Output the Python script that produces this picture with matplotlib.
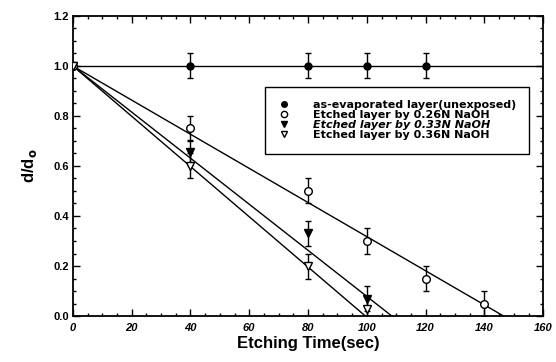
import matplotlib
matplotlib.use("Agg")
import matplotlib.pyplot as plt
import numpy as np
from matplotlib.lines import Line2D
from matplotlib.ticker import MultipleLocator

plt.rcParams["font.family"] = ["Liberation Sans", "DejaVu Sans"]

# measured points
t_unexp = [0, 40, 80, 100, 120]
d_unexp = [1.0, 1.0, 1.0, 1.0, 1.0]
e_unexp = [0.0, 0.05, 0.05, 0.05, 0.05]

t_026 = [0, 40, 80, 100, 120, 140]
d_026 = [1.0, 0.75, 0.50, 0.30, 0.15, 0.05]
e_026 = [0.0, 0.05, 0.05, 0.05, 0.05, 0.05]

t_033 = [0, 40, 80, 100]
d_033 = [1.0, 0.655, 0.33, 0.07]
e_033 = [0.0, 0.05, 0.05, 0.05]

t_036 = [0, 40, 80, 100]
d_036 = [1.0, 0.60, 0.20, 0.03]
e_036 = [0.0, 0.05, 0.05, 0.05]

# linear fit lines: start at (0, 1), reach zero at these times
fit_zero = [146.5, 108.5, 99.5]

labels = [
    "as-evaporated layer(unexposed)",
    "Etched layer by 0.26N NaOH",
    "Etched layer by 0.33N NaOH",
    "Etched layer by 0.36N NaOH",
]

STYLES = [
    dict(marker="o", ms=5, mfc="black", mec="black"),
    dict(marker="o", ms=5.5, mfc="white", mec="black", mew=1.0),
    dict(marker="v", ms=6, mfc="black", mec="black"),
    dict(marker="v", ms=6, mfc="white", mec="black", mew=1.0),
]
LEG_STYLES = [
    dict(marker="o", ms=4, mfc="black", mec="black"),
    dict(marker="o", ms=4.5, mfc="white", mec="black", mew=1.0),
    dict(marker="v", ms=5, mfc="black", mec="black"),
    dict(marker="v", ms=5, mfc="white", mec="black", mew=1.0),
]

fig = plt.figure(figsize=(5.56, 3.62), dpi=100)
ax = fig.add_axes([0.131, 0.127, 0.846, 0.829])

# fit lines
ax.plot([0, 160], [1.0, 1.0], color="black", lw=1.0, zorder=1)
for tz in fit_zero:
    ax.plot([0, tz], [1.0, 0.0], color="black", lw=1.0, zorder=1)

common = dict(ecolor="black", elinewidth=1.0, capsize=2.5, capthick=1.0,
              linestyle="none", zorder=3)
series = [(t_unexp, d_unexp, e_unexp), (t_026, d_026, e_026),
          (t_033, d_033, e_033), (t_036, d_036, e_036)]
for (t, d, e), st in zip(series, STYLES):
    ax.errorbar(t, d, yerr=e, **st, **common)

ax.set_xlim(0, 160)
ax.set_ylim(0, 1.2)
ax.xaxis.set_major_locator(MultipleLocator(20))
ax.xaxis.set_minor_locator(MultipleLocator(5))
ax.yaxis.set_major_locator(MultipleLocator(0.2))
ax.yaxis.set_minor_locator(MultipleLocator(0.05))
ax.tick_params(which="both", direction="in", top=True, right=True, width=1.0)
ax.tick_params(which="major", length=5)
ax.tick_params(which="minor", length=2.5)
ax.tick_params(axis="x", labelsize=8, pad=5)
ax.tick_params(axis="y", labelsize=8, pad=3)
ax.set_xticklabels([f"{int(v)}" for v in ax.get_xticks()], style="italic",
                   fontweight="bold")
ax.set_yticklabels([f"{v:.1f}" for v in ax.get_yticks()], fontweight="bold")
for sp in ax.spines.values():
    sp.set_linewidth(1.3)

ax.set_xlabel("Etching Time(sec)", fontsize=12, fontweight="bold", labelpad=2)
ax.set_ylabel(r"d/d$_\mathbf{o}$", fontsize=12, fontweight="bold", labelpad=10)

handles = [Line2D([], [], linestyle="none", **st) for st in LEG_STYLES]
leg = ax.legend(handles, labels, loc="upper left",
                bbox_to_anchor=(0.408, 0.763), frameon=True, fancybox=False,
                edgecolor="black", framealpha=1.0, borderpad=1.2,
                handletextpad=2.1, handlelength=1.0, labelspacing=0.0,
                borderaxespad=0,
                prop={"family": "DejaVu Sans", "size": 8, "weight": "bold"})
leg.get_frame().set_linewidth(1.0)
leg.get_texts()[2].set_style("italic")

fig.savefig("out.png", dpi=100)
